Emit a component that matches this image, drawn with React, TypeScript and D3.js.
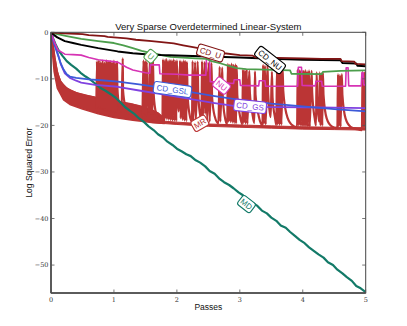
import React from 'react';
import * as d3 from 'd3';

type Pt = [number, number];

const WIDTH = 407;
const HEIGHT = 326;

const X_TICKS = [0, 1, 2, 3, 4, 5];
const Y_TICKS = [0, -10, -20, -30, -40, -50];

// [pass, log squared error]
const CD_U: Pt[] = [
  [0, 0], [0.2, -0.2], [0.5, -0.4], [0.6, -0.6], [0.85, -0.8], [0.9, -1.0], [1.2, -1.3], [1.35, -1.6],
  [1.6, -1.9], [1.95, -2.4], [2.1, -2.8], [2.3, -3.3], [2.55, -4.0], [2.75, -4.5], [3.0, -4.9], [3.2, -5.0],
  [3.25, -5.4], [3.6, -5.5], [4.0, -5.6], [4.3, -5.7], [4.6, -5.7], [4.62, -6.2], [4.82, -6.3], [4.84, -6.8], [5, -6.9],
];

const CD_NU: Pt[] = [
  [0, 0], [0.05, -0.6], [0.1, -1.1], [0.22, -1.9], [0.35, -2.3], [0.48, -2.7], [0.75, -3.4], [1.06, -4.1],
  [1.3, -4.5], [1.5, -4.7], [1.75, -4.9], [2.0, -5.0], [2.5, -5.2], [3.0, -5.4], [3.5, -5.7], [4.0, -5.9],
  [4.6, -6.0], [4.63, -6.6], [4.85, -6.7], [4.87, -7.2], [5, -7.3],
];

const U: Pt[] = [
  [0, 0], [0.1, -0.4], [0.25, -0.8], [0.48, -1.4], [0.75, -1.9], [1.0, -2.3], [1.15, -2.8], [1.3, -3.4],
  [1.44, -4.0], [1.6, -4.5], [1.9, -5.3], [2.3, -5.6], [2.47, -5.7], [2.55, -6.2], [2.7, -6.7], [2.85, -7.3],
  [2.95, -7.7], [3.1, -7.9], [3.4, -8.0], [3.8, -8.2], [3.82, -8.9], [4.3, -9.0], [4.32, -8.5], [4.6, -8.3], [5, -8.2],
];

const NU: Pt[] = [
  [0, 0], [0.05, -2.0], [0.11, -3.8], [0.22, -4.7], [0.35, -4.8], [0.48, -4.9], [0.6, -5.4], [0.75, -5.9],
  [1.06, -6.4], [1.2, -7.5], [1.3, -8.1], [1.5, -8.7], [1.57, -8.8], [1.58, -7.0], [1.72, -7.0], [1.73, -8.9],
  [2.0, -9.0], [2.2, -9.2], [2.46, -9.2], [2.47, -5.6], [2.52, -5.6], [2.53, -10.6], [2.7, -10.8], [2.9, -11.0],
  [2.91, -10.2], [3.0, -10.2], [3.01, -11.4], [3.3, -11.5], [3.31, -10.4], [3.4, -10.4], [3.41, -11.6],
  [3.92, -11.6], [3.93, -7.5], [3.98, -7.5], [3.99, -11.4], [4.2, -11.5], [4.21, -10.5], [4.3, -10.5],
  [4.31, -11.6], [4.68, -11.6], [4.69, -7.6], [4.72, -7.6], [4.73, -11.5], [4.93, -11.5], [4.94, -8.7],
  [4.96, -8.7], [4.97, -11.3], [5, -11.3],
];

const CD_GSL: Pt[] = [
  [0, 0], [0.05, -2.5], [0.1, -4.5], [0.15, -6.5], [0.2, -8.0], [0.25, -9.0], [0.3, -9.5], [0.4, -9.8],
  [0.6, -10.1], [0.8, -10.3], [1.06, -10.6], [1.4, -11.2], [1.8, -12.0], [2.2, -12.8], [2.6, -13.7],
  [3.0, -14.5], [3.5, -15.3], [4.0, -15.9], [4.5, -16.5], [5, -17.0],
];

const CD_GS: Pt[] = [
  [0, 0], [0.05, -2.2], [0.1, -4.2], [0.16, -7.0], [0.22, -8.8], [0.3, -9.8], [0.4, -10.4], [0.48, -10.8],
  [0.7, -11.3], [1.06, -11.7], [1.4, -12.5], [1.8, -13.4], [2.2, -14.3], [2.6, -15.2], [2.9, -15.8],
  [3.3, -16.0], [4.0, -16.1], [4.5, -16.2], [5, -16.3],
];

// MR: thick band at the start, a floor later, and restarts (spikes) with decays
const MR_BAND_TOP: Pt[] = [
  [0, 0], [0.03, -2.5], [0.06, -5.5], [0.1, -8.5], [0.15, -10.5], [0.25, -12.0], [0.4, -13.0], [0.7, -14.0],
  [1.0, -14.8], [1.3, -15.5], [1.5, -16.2], [1.7, -17.4], [1.8, -18.6],
];
const MR_BAND_BOTTOM: Pt[] = [
  [0, 0], [0.02, -4.0], [0.05, -8.5], [0.1, -12.0], [0.2, -14.5], [0.3, -15.5], [0.5, -16.5], [0.75, -17.5],
  [1.0, -18.3], [1.3, -18.9], [1.6, -19.4], [1.8, -19.6],
];
const MR_FLOOR_TOP: Pt[] = [
  [1.6, -18.9], [2.0, -19.3], [2.5, -19.7], [3.0, -19.9], [3.5, -20.1], [4.0, -20.3], [4.5, -20.4], [5, -20.5],
];
const MR_FLOOR_BOTTOM: Pt[] = [
  [1.6, -19.4], [2.0, -19.8], [2.5, -20.2], [3.0, -20.4], [3.5, -20.6], [4.0, -20.8], [4.5, -20.9], [5, -21.0],
];
const MR: Pt[] = [
  [0.72, -16.5], [0.73, -6.2], [0.74, -16.0], [0.76, -6.0], [0.77, -16.2], [0.79, -6.4], [0.8, -16.4], [0.82, -6.1],
  [0.83, -16.5], [0.85, -6.5], [0.86, -16.6], [0.88, -6.0], [0.89, -16.8], [0.91, -6.3], [0.92, -16.9], [0.94, -6.2],
  [0.95, -17.0], [0.97, -6.4], [0.98, -17.1], [1.0, -6.1], [1.01, -17.2], [1.03, -6.6], [1.04, -17.3], [1.05, -6.3],
  [1.055, -12.0], [1.08, -15.5], [1.12, -17.0],
  [1.14, -5.6], [1.145, -12.5], [1.18, -15.8], [1.25, -17.4], [1.35, -18.0], [1.45, -18.4],
  [1.47, -6.0], [1.48, -17.5], [1.5, -6.2], [1.51, -17.8], [1.52, -6.4], [1.53, -13.0], [1.555, -17.0],
  [1.57, -5.8], [1.58, -17.5], [1.6, -6.0], [1.61, -17.8], [1.62, -5.9], [1.63, -13.0], [1.67, -17.4], [1.72, -18.5], [1.77, -18.9],
  [1.78, -5.8], [1.79, -18.5], [1.8, -6.0], [1.81, -18.6], [1.83, -5.7], [1.84, -18.7], [1.86, -6.1], [1.87, -18.8],
  [1.89, -5.9], [1.9, -18.9], [1.92, -6.0], [1.93, -19.0], [1.95, -5.8], [1.96, -19.0], [1.98, -6.2], [1.99, -19.1],
  [2.0, -6.0], [2.01, -13.0], [2.03, -17.0],
  [2.05, -6.1], [2.06, -18.5], [2.08, -6.3], [2.09, -18.8], [2.11, -6.0], [2.12, -19.0], [2.14, -6.2], [2.15, -19.1],
  [2.16, -6.4], [2.17, -13.5], [2.2, -17.5], [2.24, -19.2],
  [2.25, -6.2], [2.26, -19.0], [2.29, -6.4], [2.3, -19.2], [2.33, -6.3], [2.34, -13.5], [2.37, -17.8], [2.39, -19.2],
  [2.4, -6.2], [2.41, -19.0], [2.44, -6.4], [2.45, -17.5], [2.47, -6.3], [2.48, -19.0], [2.51, -6.5], [2.52, -19.2],
  [2.55, -6.6], [2.56, -14.0], [2.6, -18.0], [2.66, -19.6],
  [2.68, -7.4], [2.69, -19.2], [2.72, -7.6], [2.73, -14.0], [2.76, -18.0], [2.8, -19.8],
  [2.81, -6.8], [2.82, -19.2], [2.84, -7.0], [2.85, -19.3], [2.87, -6.7], [2.88, -19.4], [2.9, -7.0], [2.91, -19.5],
  [2.93, -6.9], [2.94, -19.6], [2.95, -7.2], [2.96, -13.5], [3.0, -17.8], [3.04, -19.8],
  [3.05, -8.0], [3.06, -19.5], [3.08, -8.2], [3.09, -19.6], [3.11, -8.0], [3.12, -19.7], [3.15, -8.3], [3.16, -13.0],
  [3.2, -17.5], [3.23, -19.5],
  [3.24, -8.4], [3.25, -13.5], [3.3, -18.0], [3.36, -20.0],
  [3.37, -7.0], [3.38, -19.7], [3.4, -7.2], [3.41, -19.8], [3.44, -7.0], [3.45, -13.0], [3.49, -18.2],
  [3.51, -8.5], [3.52, -14.0], [3.56, -18.4], [3.58, -19.9],
  [3.59, -7.8], [3.6, -19.8], [3.62, -7.9], [3.63, -19.9], [3.65, -7.6], [3.66, -19.9], [3.68, -7.8], [3.69, -12.5],
  [3.74, -17.5], [3.82, -19.8], [3.91, -20.4],
  [3.92, -8.0], [3.93, -20.0], [3.95, -8.2], [3.96, -20.1], [3.98, -8.0], [3.99, -20.2], [4.01, -8.3], [4.02, -20.2],
  [4.04, -8.1], [4.05, -20.2], [4.07, -8.4], [4.08, -20.3], [4.1, -8.2], [4.11, -20.3], [4.14, -8.3], [4.15, -13.0],
  [4.19, -18.5], [4.21, -20.0],
  [4.22, -8.6], [4.23, -14.0], [4.26, -19.2],
  [4.27, -8.6], [4.28, -20.0], [4.3, -8.8], [4.31, -20.1], [4.32, -8.7], [4.33, -13.5], [4.38, -18.5], [4.46, -20.2], [4.55, -20.6],
  [4.56, -9.0], [4.57, -20.2], [4.59, -9.2], [4.6, -20.3], [4.62, -9.0], [4.63, -13.5], [4.68, -18.5], [4.76, -20.3],
  [4.86, -20.8], [4.94, -21.0],
  [4.95, -8.5], [4.96, -20.5], [4.98, -8.7], [4.99, -20.6], [5.0, -8.4],
];

const MD: Pt[] = [
  [0, 0], [0.03, -1.2], [0.07, -2.5], [0.12, -3.9], [0.18, -5.0], [0.25, -6.2], [0.32, -7.0], [0.4, -7.8],
  [0.47, -8.7], [0.55, -9.5], [0.62, -10.1], [0.7, -11.0], [0.78, -11.9], [0.86, -12.5], [0.95, -13.3],
  [1.03, -14.1], [1.1, -15.0], [1.18, -16.1], [1.25, -16.8], [1.33, -17.6], [1.4, -18.5], [1.48, -19.3],
  [1.55, -20.2], [1.63, -21.0], [1.7, -21.9], [1.78, -22.6], [1.85, -23.5], [1.93, -24.2], [2.0, -25.0],
  [2.08, -25.6], [2.15, -26.2], [2.22, -26.6], [2.3, -27.5], [2.37, -28.0], [2.45, -28.8], [2.52, -29.8],
  [2.6, -30.4], [2.68, -31.5], [2.75, -32.2], [2.83, -32.8], [2.9, -33.5], [2.98, -34.4], [3.05, -35.0],
  [3.13, -35.9], [3.2, -36.6], [3.28, -37.3], [3.35, -38.3], [3.43, -38.9], [3.5, -39.8], [3.58, -40.5],
  [3.65, -41.5], [3.73, -42.0], [3.8, -42.9], [3.88, -43.8], [3.95, -44.6], [4.03, -45.3], [4.1, -46.2],
  [4.18, -47.0], [4.25, -47.7], [4.33, -48.4], [4.4, -49.4], [4.48, -50.0], [4.55, -51.0], [4.63, -51.8],
  [4.7, -52.6], [4.78, -53.4], [4.85, -54.5], [4.92, -55.0], [5.0, -55.8],
];

// inline labels: name, position (pass, error), rotation
const LABEL_NAMES = ['U', 'CD_U', 'CD_NU', 'NU', 'CD_GSL', 'CD_GS', 'MR', 'MD'];
const LABEL_AT: Pt[] = [
  [1.585, -5.15], [2.535, -4.45], [3.48, -5.95], [2.71, -11.45], [1.93, -12.3], [3.163, -15.9], [2.365, -19.55], [3.106, -36.9],
];
const LABEL_ANGLE = [40, 17, 38, 38, 8, 6, -30, 38];

const COLORS: Record<string, string> = {
  CD_U: '#821515',
  CD_NU: '#000000',
  U: '#4c9e4c',
  NU: '#d633b4',
  CD_GSL: '#3d5ad8',
  CD_GS: '#8042e0',
  MR: '#bb3535',
  MD: '#137a68',
};

const SERIES: { key: string; data: Pt[]; width: number }[] = [
  { key: 'MR', data: MR, width: 2.2 },
  { key: 'MD', data: MD, width: 2.2 },
  { key: 'CD_GS', data: CD_GS, width: 1.8 },
  { key: 'CD_GSL', data: CD_GSL, width: 1.8 },
  { key: 'NU', data: NU, width: 1.6 },
  { key: 'U', data: U, width: 1.8 },
  { key: 'CD_NU', data: CD_NU, width: 2 },
  { key: 'CD_U', data: CD_U, width: 1.8 },
];

const App = () => {
  const x0 = 51, x1 = 365.7, y0 = 32.3, y1 = 293;
  const x = d3.scaleLinear().domain([0, 5]).range([x0, x1]);
  const y = d3.scaleLinear().domain([0, -56]).range([y0, y1]);

  const line = d3.line<Pt>().x(d => x(d[0])).y(d => y(d[1]));
  const smooth = d3.line<Pt>().x(d => x(d[0])).y(d => y(d[1])).curve(d3.curveMonotoneX);

  // closed area between two edges
  const band = (top: Pt[], bottom: Pt[]) =>
    'M' + top.map(d => `${x(d[0])},${y(d[1])}`).join('L') +
    'L' + bottom.slice().reverse().map(d => `${x(d[0])},${y(d[1])}`).join('L') + 'Z';

  const minus = (v: number) => (v < 0 ? '\u2212' + Math.abs(v) : String(v));
  const tickLen = 3.5;
  const sans = '"Liberation Sans", Arial, sans-serif';
  const serif = '"DejaVu Serif", "Liberation Serif", serif';

  return (
    <svg width={WIDTH} height={HEIGHT} style={{ position: 'absolute', left: 0, top: 0, background: '#fff' }}>
      <defs>
        <clipPath id="plot">
          <rect x={x0} y={y0} width={x1 - x0} height={y1 - y0} />
        </clipPath>
      </defs>

      <g clipPath="url(#plot)">
        <path d={band(MR_BAND_TOP, MR_BAND_BOTTOM)} fill={COLORS.MR} stroke={COLORS.MR} strokeWidth={1.5} strokeLinejoin="round" />
        <path d={smooth(MR_BAND_TOP) ?? ''} fill="none" stroke={COLORS.MR} strokeWidth={1.8} />
        <path d={band(MR_FLOOR_TOP, MR_FLOOR_BOTTOM)} fill={COLORS.MR} stroke={COLORS.MR} strokeWidth={1} strokeLinejoin="round" />
        {SERIES.map(s => (
          <path
            key={s.key}
            d={(s.key === 'MR' ? smooth(s.data) : line(s.data)) ?? ''}
            fill="none"
            stroke={COLORS[s.key]}
            strokeWidth={s.width}
            strokeLinejoin="round"
          />
        ))}
      </g>

      {/* frame */}
      <rect x={x0} y={y0} width={x1 - x0} height={y1 - y0} fill="none" stroke="#444" strokeWidth={1} />
      <line x1={x0} x2={x1} y1={y1} y2={y1} stroke="#444" strokeWidth={1.5} />
      <line x1={x0} x2={x0} y1={y0} y2={y1} stroke="#444" strokeWidth={1.5} />

      {/* ticks */}
      <g fontSize={6.5} fontFamily={serif} fill="#333" textRendering="geometricPrecision">
        {X_TICKS.map(t => (
          <g key={'x' + t}>
            <line x1={x(t)} x2={x(t)} y1={y1} y2={y1 - tickLen} stroke="#555" strokeWidth={0.8} />
            <line x1={x(t)} x2={x(t)} y1={y0} y2={y0 + tickLen} stroke="#555" strokeWidth={0.8} />
            <text x={x(t)} y={y1 + 8.5} textAnchor="middle">{t}</text>
          </g>
        ))}
        {Y_TICKS.map(t => (
          <g key={'y' + t}>
            <line x1={x0} x2={x0 + tickLen} y1={y(t)} y2={y(t)} stroke="#555" strokeWidth={0.8} />
            <line x1={x1} x2={x1 - tickLen} y1={y(t)} y2={y(t)} stroke="#555" strokeWidth={0.8} />
            <text x={x0 - 2.5} y={y(t) + 2.3} textAnchor="end">{minus(t)}</text>
          </g>
        ))}
      </g>

      {/* inline labels */}
      {LABEL_NAMES.map((name, i) => {
        const w = name.length * 5.5 + 5;
        const h = 11.5;
        return (
          <g key={name} transform={`translate(${x(LABEL_AT[i][0])},${y(LABEL_AT[i][1])}) rotate(${LABEL_ANGLE[i]})`}>
            <rect x={-w / 2} y={-h / 2} width={w} height={h} rx={2.5} fill="#fff" stroke={COLORS[name]} strokeWidth={1.1} />
            <text x={0} y={2.9} fontSize={8} fontFamily={sans} fill={COLORS[name]} textAnchor="middle">{name}</text>
          </g>
        );
      })}

      <text x={(x0 + x1) / 2} y={29.5} fontSize={9.5} fontFamily={sans} fill="#111" textAnchor="middle">
        Very Sparse Overdetermined Linear-System
      </text>
      <text x={(x0 + x1) / 2} y={310} fontSize={8.5} fontFamily={sans} fill="#111" textAnchor="middle">Passes</text>
      <text
        transform={`translate(32,${(y0 + y1) / 2}) rotate(-90)`}
        fontSize={8.5}
        fontFamily={sans}
        fill="#111"
        textAnchor="middle"
      >
        Log Squared Error
      </text>
    </svg>
  );
};

export default App;
